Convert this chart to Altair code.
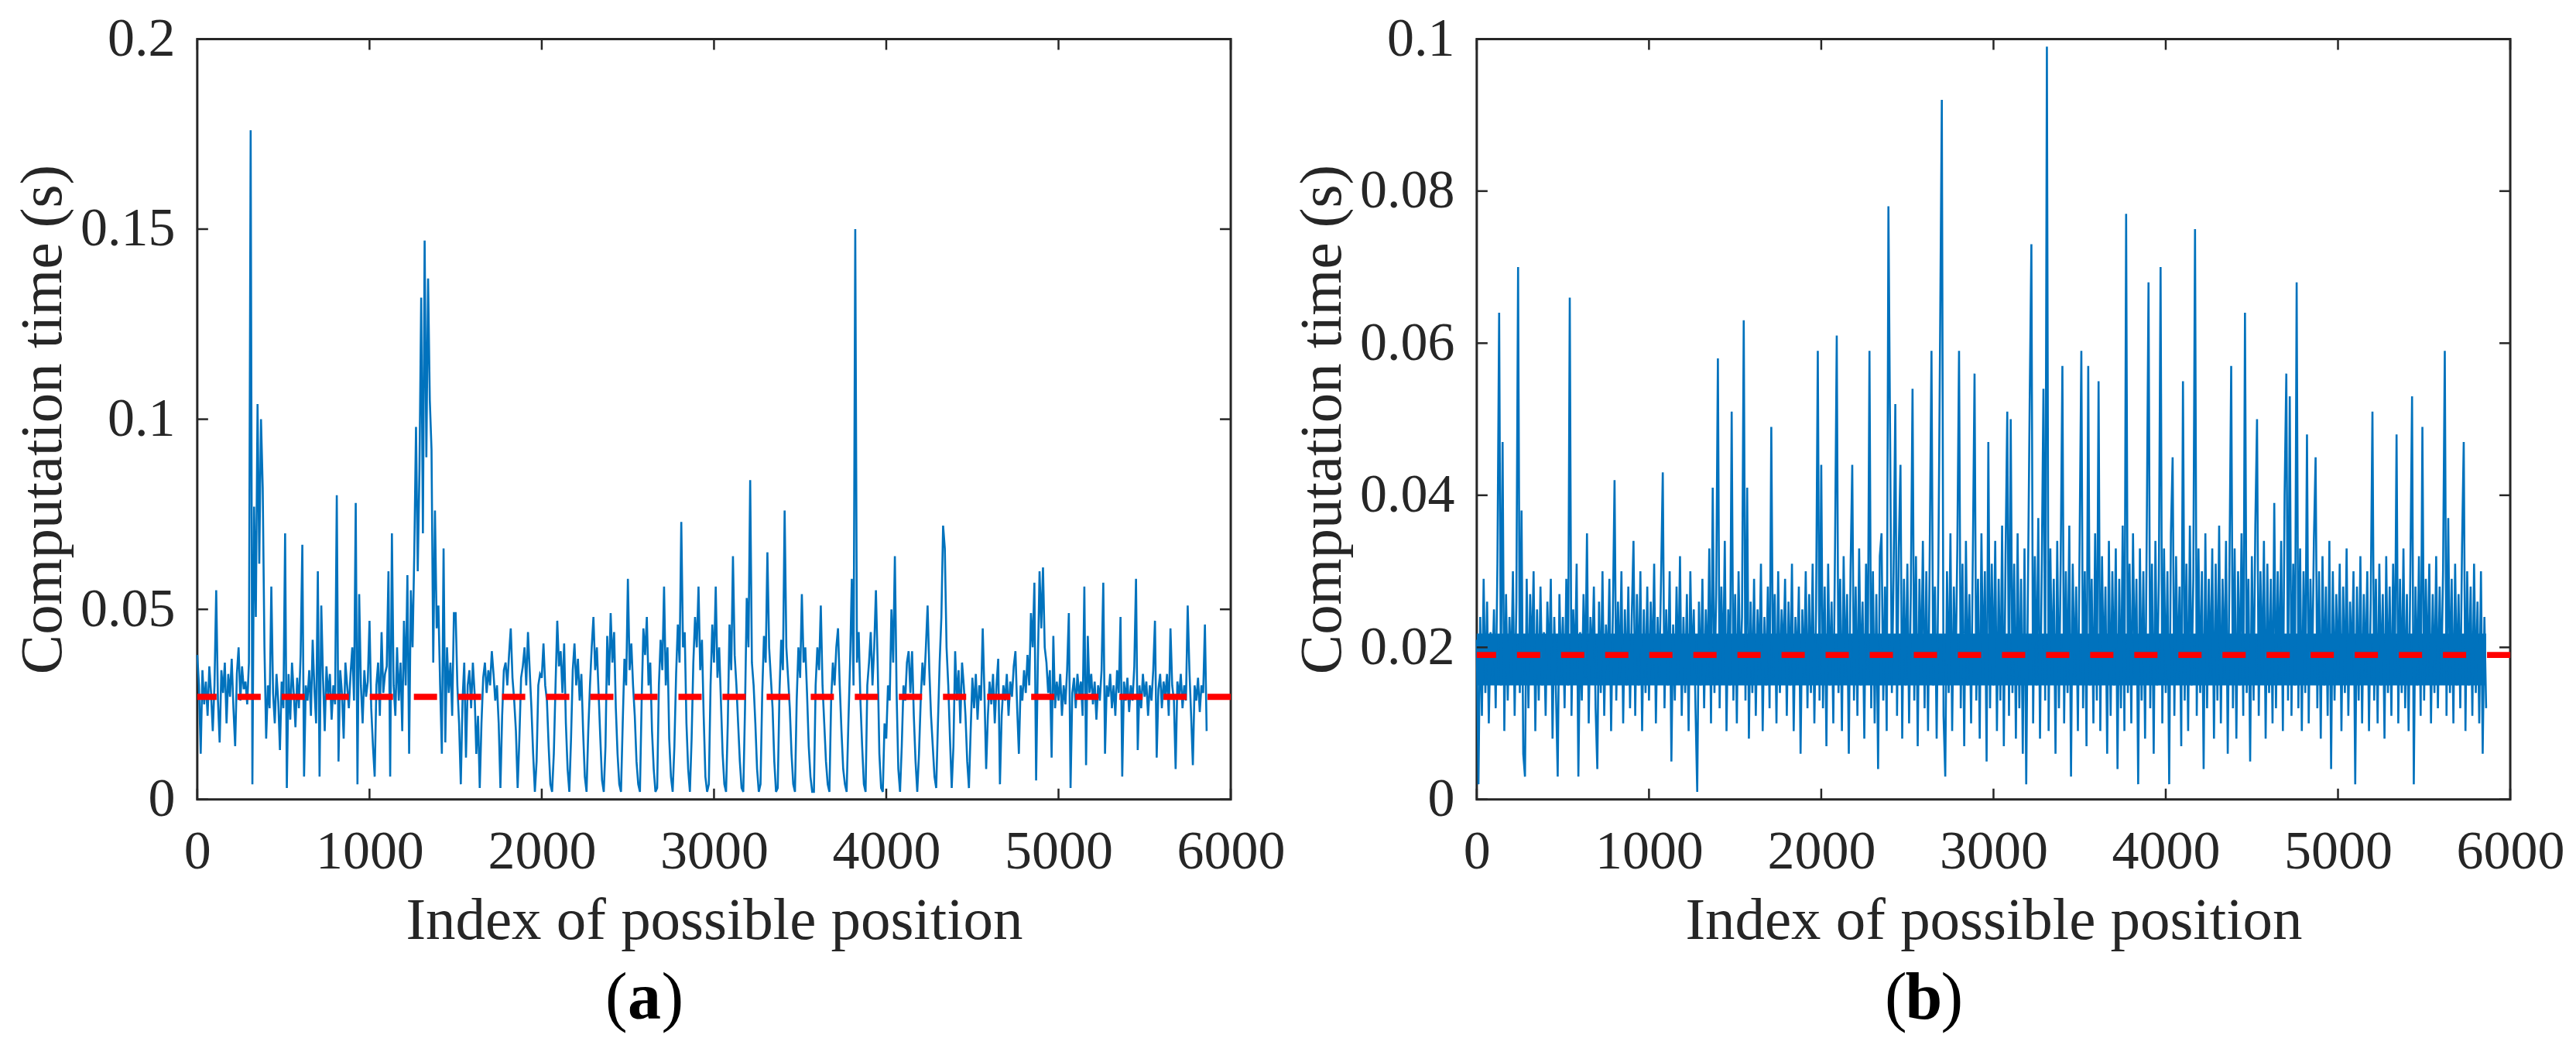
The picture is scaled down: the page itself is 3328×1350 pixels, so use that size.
import altair as alt
import pandas as pd

# ---------------- data (step = 10 indices) ----------------
STEP = 10

a_rows = [
    [0.038, 0.030, 0.012, 0.034, 0.025, 0.031, 0.022, 0.035, 0.028, 0.018],
    [0.030, 0.055, 0.026, 0.015, 0.034, 0.028, 0.036, 0.020, 0.033, 0.027],
    [0.037, 0.024, 0.014, 0.033, 0.040, 0.026, 0.035, 0.029, 0.031, 0.025],
    [0.036, 0.176, 0.004, 0.077, 0.048, 0.104, 0.062, 0.100, 0.082, 0.040],
    [0.016, 0.030, 0.024, 0.056, 0.028, 0.020, 0.033, 0.026, 0.013, 0.031],
    [0.024, 0.070, 0.003, 0.033, 0.021, 0.036, 0.028, 0.019, 0.032, 0.024],
    [0.038, 0.067, 0.006, 0.030, 0.026, 0.034, 0.022, 0.042, 0.029, 0.020],
    [0.060, 0.006, 0.051, 0.032, 0.018, 0.035, 0.027, 0.033, 0.021, 0.030],
    [0.025, 0.080, 0.010, 0.034, 0.028, 0.016, 0.036, 0.030, 0.024, 0.033],
    [0.040, 0.026, 0.078, 0.004, 0.054, 0.030, 0.020, 0.034, 0.027, 0.031],
    [0.047, 0.024, 0.014, 0.006, 0.030, 0.036, 0.022, 0.044, 0.028, 0.033],
    [0.035, 0.060, 0.006, 0.070, 0.030, 0.022, 0.040, 0.026, 0.036, 0.018],
    [0.047, 0.030, 0.059, 0.012, 0.055, 0.040, 0.065, 0.098, 0.060, 0.087],
    [0.132, 0.070, 0.147, 0.090, 0.137, 0.105, 0.092, 0.036, 0.076, 0.045],
    [0.051, 0.030, 0.012, 0.066, 0.015, 0.040, 0.028, 0.036, 0.022, 0.049],
    [0.049, 0.030, 0.020, 0.004, 0.026, 0.036, 0.011, 0.030, 0.034, 0.024],
    [0.036, 0.028, 0.012, 0.022, 0.003, 0.020, 0.032, 0.036, 0.028, 0.034],
    [0.030, 0.039, 0.033, 0.026, 0.030, 0.020, 0.003, 0.022, 0.034, 0.036],
    [0.030, 0.038, 0.045, 0.032, 0.026, 0.018, 0.003, 0.016, 0.032, 0.035],
    [0.040, 0.030, 0.044, 0.034, 0.024, 0.012, 0.002, 0.010, 0.030, 0.033],
    [0.032, 0.041, 0.030, 0.026, 0.014, 0.004, 0.002, 0.012, 0.030, 0.047],
    [0.035, 0.039, 0.028, 0.041, 0.020, 0.008, 0.002, 0.016, 0.034, 0.041],
    [0.030, 0.037, 0.026, 0.033, 0.018, 0.006, 0.002, 0.018, 0.030, 0.040],
    [0.048, 0.034, 0.040, 0.028, 0.016, 0.005, 0.002, 0.014, 0.043, 0.030],
    [0.049, 0.036, 0.044, 0.024, 0.012, 0.004, 0.002, 0.020, 0.037, 0.030],
    [0.058, 0.034, 0.041, 0.030, 0.022, 0.010, 0.004, 0.002, 0.026, 0.045],
    [0.038, 0.048, 0.030, 0.036, 0.018, 0.008, 0.002, 0.003, 0.030, 0.042],
    [0.034, 0.056, 0.030, 0.040, 0.016, 0.006, 0.002, 0.014, 0.033, 0.046],
    [0.036, 0.073, 0.040, 0.044, 0.020, 0.008, 0.002, 0.016, 0.036, 0.048],
    [0.040, 0.056, 0.034, 0.042, 0.022, 0.006, 0.002, 0.004, 0.030, 0.046],
    [0.036, 0.056, 0.032, 0.040, 0.026, 0.012, 0.004, 0.002, 0.020, 0.046],
    [0.034, 0.064, 0.038, 0.030, 0.020, 0.010, 0.003, 0.002, 0.024, 0.053],
    [0.040, 0.084, 0.036, 0.030, 0.020, 0.008, 0.002, 0.004, 0.028, 0.043],
    [0.036, 0.065, 0.040, 0.032, 0.024, 0.010, 0.002, 0.003, 0.028, 0.042],
    [0.034, 0.076, 0.040, 0.032, 0.024, 0.012, 0.004, 0.002, 0.026, 0.040],
    [0.032, 0.054, 0.036, 0.040, 0.028, 0.014, 0.006, 0.002, 0.002, 0.030],
    [0.040, 0.034, 0.051, 0.030, 0.020, 0.010, 0.004, 0.002, 0.026, 0.036],
    [0.030, 0.040, 0.045, 0.030, 0.018, 0.008, 0.004, 0.002, 0.020, 0.036],
    [0.058, 0.030, 0.150, 0.036, 0.044, 0.026, 0.014, 0.004, 0.002, 0.030],
    [0.036, 0.044, 0.030, 0.040, 0.055, 0.036, 0.012, 0.003, 0.002, 0.020],
    [0.016, 0.030, 0.026, 0.050, 0.036, 0.064, 0.028, 0.008, 0.002, 0.014],
    [0.030, 0.026, 0.036, 0.039, 0.028, 0.039, 0.022, 0.010, 0.002, 0.012],
    [0.026, 0.036, 0.030, 0.040, 0.051, 0.034, 0.022, 0.014, 0.006, 0.003],
    [0.020, 0.036, 0.048, 0.072, 0.066, 0.040, 0.030, 0.016, 0.003, 0.014],
    [0.039, 0.026, 0.034, 0.020, 0.036, 0.030, 0.022, 0.010, 0.003, 0.018],
    [0.032, 0.024, 0.033, 0.021, 0.030, 0.026, 0.045, 0.028, 0.008, 0.022],
    [0.031, 0.025, 0.033, 0.020, 0.030, 0.037, 0.004, 0.022, 0.030, 0.026],
    [0.033, 0.022, 0.031, 0.027, 0.035, 0.039, 0.024, 0.012, 0.030, 0.026],
    [0.034, 0.028, 0.038, 0.030, 0.049, 0.040, 0.057, 0.005, 0.036, 0.060],
    [0.045, 0.061, 0.040, 0.036, 0.028, 0.034, 0.011, 0.043, 0.024, 0.031],
    [0.026, 0.033, 0.022, 0.030, 0.025, 0.034, 0.049, 0.003, 0.028, 0.032],
    [0.024, 0.033, 0.027, 0.031, 0.022, 0.056, 0.009, 0.043, 0.028, 0.033],
    [0.025, 0.031, 0.021, 0.030, 0.026, 0.034, 0.057, 0.012, 0.030, 0.027],
    [0.033, 0.024, 0.030, 0.022, 0.034, 0.028, 0.048, 0.006, 0.031, 0.026],
    [0.032, 0.023, 0.030, 0.026, 0.035, 0.058, 0.013, 0.030, 0.024, 0.033],
    [0.027, 0.031, 0.022, 0.030, 0.026, 0.034, 0.047, 0.011, 0.029, 0.033],
    [0.024, 0.031, 0.027, 0.033, 0.022, 0.045, 0.030, 0.026, 0.008, 0.031],
    [0.027, 0.033, 0.024, 0.030, 0.026, 0.051, 0.034, 0.022, 0.009, 0.030],
    [0.026, 0.032, 0.023, 0.030, 0.028, 0.046, 0.018],
]

b_rows = [
    [0.021, 0.002, 0.024, 0.011, 0.029, 0.014, 0.026, 0.010, 0.022, 0.016],
    [0.025, 0.012, 0.031, 0.064, 0.015, 0.047, 0.009, 0.027, 0.013, 0.024],
    [0.016, 0.030, 0.011, 0.026, 0.070, 0.014, 0.038, 0.006, 0.003, 0.029],
    [0.012, 0.027, 0.018, 0.030, 0.009, 0.025, 0.013, 0.028, 0.015, 0.022],
    [0.011, 0.026, 0.017, 0.029, 0.008, 0.024, 0.014, 0.003, 0.027, 0.016],
    [0.024, 0.012, 0.029, 0.015, 0.066, 0.011, 0.025, 0.017, 0.031, 0.003],
    [0.022, 0.013, 0.027, 0.016, 0.035, 0.010, 0.024, 0.018, 0.028, 0.012],
    [0.004, 0.026, 0.014, 0.030, 0.011, 0.023, 0.017, 0.029, 0.009, 0.024],
    [0.042, 0.013, 0.026, 0.016, 0.030, 0.010, 0.025, 0.015, 0.028, 0.012],
    [0.024, 0.034, 0.011, 0.027, 0.015, 0.030, 0.009, 0.025, 0.014, 0.028],
    [0.013, 0.026, 0.017, 0.031, 0.010, 0.024, 0.016, 0.029, 0.043, 0.012],
    [0.025, 0.015, 0.030, 0.005, 0.023, 0.013, 0.028, 0.016, 0.032, 0.011],
    [0.024, 0.014, 0.027, 0.009, 0.030, 0.017, 0.025, 0.012, 0.001, 0.026],
    [0.015, 0.029, 0.012, 0.025, 0.016, 0.033, 0.010, 0.041, 0.014, 0.027],
    [0.058, 0.012, 0.028, 0.016, 0.034, 0.009, 0.025, 0.015, 0.051, 0.013],
    [0.027, 0.010, 0.030, 0.016, 0.024, 0.063, 0.013, 0.041, 0.008, 0.026],
    [0.014, 0.029, 0.011, 0.025, 0.017, 0.031, 0.009, 0.024, 0.015, 0.028],
    [0.012, 0.049, 0.016, 0.027, 0.010, 0.030, 0.014, 0.025, 0.018, 0.029],
    [0.011, 0.026, 0.015, 0.031, 0.009, 0.024, 0.017, 0.028, 0.006, 0.025],
    [0.016, 0.030, 0.012, 0.027, 0.014, 0.031, 0.010, 0.025, 0.059, 0.013],
    [0.044, 0.012, 0.028, 0.007, 0.031, 0.015, 0.026, 0.010, 0.033, 0.061],
    [0.014, 0.029, 0.009, 0.032, 0.016, 0.027, 0.006, 0.030, 0.044, 0.013],
    [0.028, 0.011, 0.033, 0.015, 0.026, 0.008, 0.031, 0.017, 0.059, 0.012],
    [0.030, 0.010, 0.027, 0.004, 0.032, 0.035, 0.013, 0.028, 0.009, 0.078],
    [0.047, 0.014, 0.030, 0.052, 0.011, 0.033, 0.044, 0.008, 0.029, 0.015],
    [0.031, 0.010, 0.027, 0.054, 0.013, 0.032, 0.007, 0.029, 0.016, 0.034],
    [0.012, 0.030, 0.009, 0.033, 0.059, 0.015, 0.028, 0.008, 0.031, 0.061],
    [0.092, 0.011, 0.003, 0.030, 0.014, 0.035, 0.009, 0.028, 0.016, 0.033],
    [0.059, 0.012, 0.031, 0.007, 0.034, 0.015, 0.027, 0.010, 0.032, 0.056],
    [0.013, 0.029, 0.008, 0.035, 0.016, 0.030, 0.005, 0.047, 0.012, 0.031],
    [0.015, 0.034, 0.009, 0.029, 0.013, 0.036, 0.007, 0.032, 0.051, 0.011],
    [0.050, 0.014, 0.031, 0.008, 0.035, 0.012, 0.029, 0.006, 0.033, 0.002],
    [0.028, 0.052, 0.073, 0.010, 0.032, 0.015, 0.037, 0.008, 0.030, 0.054],
    [0.013, 0.099, 0.009, 0.033, 0.016, 0.029, 0.006, 0.034, 0.012, 0.031],
    [0.057, 0.010, 0.030, 0.014, 0.036, 0.003, 0.031, 0.016, 0.028, 0.009],
    [0.034, 0.059, 0.012, 0.030, 0.007, 0.057, 0.015, 0.029, 0.010, 0.035],
    [0.013, 0.055, 0.009, 0.032, 0.016, 0.028, 0.006, 0.034, 0.011, 0.030],
    [0.015, 0.033, 0.004, 0.029, 0.012, 0.036, 0.009, 0.077, 0.014, 0.031],
    [0.010, 0.035, 0.016, 0.029, 0.002, 0.033, 0.013, 0.030, 0.008, 0.036],
    [0.068, 0.012, 0.031, 0.006, 0.034, 0.015, 0.029, 0.070, 0.010, 0.033],
    [0.014, 0.030, 0.002, 0.035, 0.045, 0.011, 0.032, 0.016, 0.028, 0.007],
    [0.055, 0.013, 0.031, 0.009, 0.036, 0.015, 0.029, 0.075, 0.011, 0.033],
    [0.014, 0.030, 0.004, 0.035, 0.012, 0.029, 0.016, 0.033, 0.008, 0.031],
    [0.013, 0.036, 0.010, 0.029, 0.016, 0.034, 0.006, 0.031, 0.057, 0.012],
    [0.033, 0.008, 0.030, 0.015, 0.035, 0.011, 0.064, 0.014, 0.029, 0.005],
    [0.032, 0.013, 0.036, 0.050, 0.011, 0.030, 0.016, 0.034, 0.008, 0.031],
    [0.014, 0.029, 0.010, 0.039, 0.012, 0.030, 0.016, 0.034, 0.009, 0.040],
    [0.056, 0.013, 0.053, 0.011, 0.031, 0.015, 0.068, 0.012, 0.033, 0.009],
    [0.030, 0.014, 0.048, 0.010, 0.029, 0.016, 0.034, 0.045, 0.012, 0.030],
    [0.008, 0.032, 0.015, 0.028, 0.011, 0.034, 0.004, 0.030, 0.013, 0.027],
    [0.016, 0.031, 0.009, 0.028, 0.014, 0.033, 0.011, 0.026, 0.017, 0.030],
    [0.002, 0.028, 0.013, 0.032, 0.010, 0.027, 0.016, 0.030, 0.009, 0.026],
    [0.051, 0.013, 0.029, 0.010, 0.031, 0.015, 0.027, 0.008, 0.032, 0.014],
    [0.028, 0.011, 0.031, 0.016, 0.048, 0.010, 0.029, 0.014, 0.033, 0.012],
    [0.027, 0.009, 0.030, 0.053, 0.002, 0.028, 0.015, 0.032, 0.011, 0.049],
    [0.013, 0.029, 0.016, 0.031, 0.010, 0.027, 0.014, 0.032, 0.012, 0.028],
    [0.016, 0.030, 0.059, 0.011, 0.037, 0.014, 0.029, 0.010, 0.031, 0.015],
    [0.027, 0.012, 0.033, 0.047, 0.009, 0.030, 0.015, 0.028, 0.011, 0.031],
    [0.014, 0.026, 0.010, 0.030, 0.006, 0.024, 0.012],
]

# visually solid core of trace (b): start index, end index, low, high
b_core_start = [0]
b_core_end = [5860]
b_core_lo = [0.0150]
b_core_hi = [0.0218]

a_mean = 0.027
b_mean = 0.019

x_ticks = [0, 1000, 2000, 3000, 4000, 5000, 6000]
a_y_ticks = [0, 0.05, 0.1, 0.15, 0.2]
b_y_ticks = [0, 0.02, 0.04, 0.06, 0.08, 0.1]

x_title = "Index of possible position"
y_title = "Computation time (s)"

# ---------------- styling ----------------
W, H = 1336, 983
FONT = "Liberation Serif"
INK = "#262626"
BLUE = "#0072BD"
TICK_LEN = 14


def flatten(rows):
    vals = [v for r in rows for v in r]
    return pd.DataFrame({"idx": [i * STEP for i in range(len(vals))], "t": vals})


def panel(rows, core, mean, yticks, ymax, letter):
    df = flatten(rows)
    xs = alt.Scale(domain=[0, 6000], nice=False, zero=False)
    ys = alt.Scale(domain=[0, ymax], nice=False)

    xaxis = alt.Axis(values=x_ticks, format="d", title=x_title, grid=False, domain=False,
                     ticks=False, tickSize=0, labelPadding=89, labelBaseline="alphabetic",
                     labelFlush=False, labelOverlap=False, labelFontSize=70,
                     titleFontSize=77, titleFontWeight="normal", titleBaseline="alphabetic",
                     titleX=W / 2, titleY=180, labelColor=INK, titleColor=INK)
    yaxis = alt.Axis(values=yticks, format="~g", title=y_title, grid=False, domain=False,
                     ticks=False, tickSize=0, labelPadding=29, labelBaseline="middle",
                     labelFlush=False, labelOverlap=False, labelFontSize=70,
                     titleFontSize=77, titleFontWeight="normal", titleAngle=270,
                     titleBaseline="alphabetic", titleAlign="center",
                     titleX=-176, titleY=H / 2, labelColor=INK, titleColor=INK)

    layers = []
    if core is not None:
        core_df = pd.DataFrame({"s": core[0], "e": core[1], "lo": core[2], "hi": core[3]})
        layers.append(alt.Chart(core_df).mark_rect(color=BLUE, opacity=1).encode(
            x=alt.X("s:Q", scale=xs), x2="e:Q",
            y=alt.Y("lo:Q", scale=ys), y2="hi:Q",
        ))
    line = alt.Chart(df).mark_line(color=BLUE, strokeWidth=2.6, strokeJoin="miter").encode(
        x=alt.X("idx:Q", scale=xs, axis=xaxis),
        y=alt.Y("t:Q", scale=ys, axis=yaxis),
    )
    mean_rule = alt.Chart(pd.DataFrame({"m": [mean]})).mark_rule(
        color="#FF0000", strokeWidth=8, strokeDash=[30, 27]
    ).encode(y=alt.Y("m:Q", scale=ys))

    xt = pd.DataFrame({"v": x_ticks})
    yt = pd.DataFrame({"v": yticks})
    tick_style = dict(color=INK, strokeWidth=2.5)
    xb = alt.Chart(xt).mark_rule(**tick_style).encode(
        x=alt.X("v:Q", scale=xs), y=alt.value(H), y2=alt.value(H - TICK_LEN))
    xtop = alt.Chart(xt).mark_rule(**tick_style).encode(
        x=alt.X("v:Q", scale=xs), y=alt.value(0), y2=alt.value(TICK_LEN))
    yl = alt.Chart(yt).mark_rule(**tick_style).encode(
        y=alt.Y("v:Q", scale=ys), x=alt.value(0), x2=alt.value(TICK_LEN))
    yr = alt.Chart(yt).mark_rule(**tick_style).encode(
        y=alt.Y("v:Q", scale=ys), x=alt.value(W), x2=alt.value(W - TICK_LEN))

    cx, cy, fs = 578, H + 283, 86
    cap = pd.DataFrame({"s": [letter]})
    mid = alt.Chart(cap).mark_text(font=FONT, fontSize=fs, fontWeight="bold", color="#000000",
                                   baseline="alphabetic", align="center").encode(
        x=alt.value(cx), y=alt.value(cy), text="s:N")
    lp = alt.Chart(pd.DataFrame({"s": ["("]})).mark_text(
        font=FONT, fontSize=fs, color="#000000", baseline="alphabetic", align="right").encode(
        x=alt.value(cx - 22), y=alt.value(cy), text="s:N")
    rp = alt.Chart(pd.DataFrame({"s": [")"]})).mark_text(
        font=FONT, fontSize=fs, color="#000000", baseline="alphabetic", align="left").encode(
        x=alt.value(cx + 22), y=alt.value(cy), text="s:N")

    layers += [line, mean_rule, xb, xtop, yl, yr, mid, lp, rp]
    return alt.layer(*layers).properties(width=W, height=H)


pa = panel(a_rows, None, a_mean, a_y_ticks, 0.2, "a")
pb = panel(b_rows, (b_core_start, b_core_end, b_core_lo, b_core_hi), b_mean, b_y_ticks, 0.1, "b")

chart = alt.hconcat(pa, pb, spacing=318, bounds="flush").properties(
    padding={"left": 7, "top": 5, "right": 5, "bottom": 5}
).configure(font=FONT).configure_view(stroke=INK, strokeWidth=3)

chart.save("out.html", embed_options={"renderer": "svg", "actions": False})
